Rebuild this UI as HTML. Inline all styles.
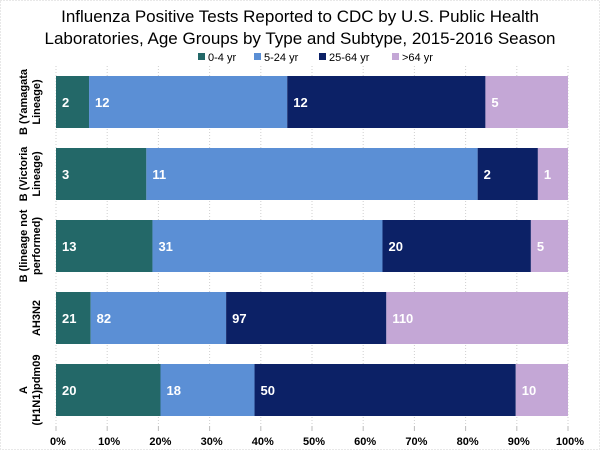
<!DOCTYPE html>
<html><head><meta charset="utf-8"><style>
html,body{margin:0;padding:0;background:#fff;}
svg{display:block;font-family:"Liberation Sans",Arial,sans-serif;}
</style></head><body>
<svg id="chart" width="600" height="450" viewBox="0 0 600 450">
<rect x="0.5" y="0.5" width="599" height="449" fill="#fff" stroke="#d0d0d0" stroke-dasharray="1,2"/>
<text x="300" y="22" text-anchor="middle" font-size="17" fill="#000">Influenza Positive Tests Reported to CDC by U.S. Public Health</text>
<text x="300" y="44" text-anchor="middle" font-size="17" fill="#000">Laboratories, Age Groups by Type and Subtype, 2015-2016 Season</text>
<g id="legend"></g>
<g id="grid"></g>
<g id="bars"></g>
<g id="xaxis"></g>
<g id="yaxis"></g>
</svg>
<script>
const categories=[["B (Yamagata","Lineage)"],["B (Victoria","Lineage)"],["B (lineage not","performed)"],["AH3N2"],["A","(H1N1)pdm09"]];
const series=["0-4 yr","5-24 yr","25-64 yr",">64 yr"];
const s0=[2,3,13,21,20];
const s1=[12,11,31,82,18];
const s2=[12,2,20,97,50];
const s3=[5,1,5,110,10];
const tickLabels=["0%","10%","20%","30%","40%","50%","60%","70%","80%","90%","100%"];
const colors=["#236868","#5b8fd5","#0c2166","#c4a7d6"];
const NS="http://www.w3.org/2000/svg";
const X0=56,X1=568,Y0=66,Y1=426;
const x=p=>X0+(X1-X0)*p;
const bandH=(Y1-Y0)/categories.length;
const yc=i=>Y0+bandH*(i+0.5);
function mk(t,a,parent){const e=document.createElementNS(NS,t);for(const k in a)e.setAttribute(k,a[k]);document.getElementById(parent).appendChild(e);return e;}
// grid
tickLabels.forEach((l,i)=>{
const g=mk("line",{x1:x(i/10),x2:x(i/10),y1:Y0,y2:Y1,stroke:"#cfcfcf","stroke-dasharray":"1,2"},"grid");


const tk=mk("line",{x1:x(i/10),x2:x(i/10),y1:Y1,y2:Y1+5,stroke:"#bbb"},"xaxis");


const t=mk("text",{x:x(i/10)+2,y:Y1+19,"text-anchor":"middle","font-size":"11","font-weight":"bold",fill:"#000"},"xaxis");
t.textContent=l;


});
const all=[s0,s1,s2,s3];
categories.forEach((c,i)=>{
const tot=all.reduce((s,a)=>s+a[i],0);
let cum=0;
all.forEach((a,j)=>{
const v=a[i];const xa=x(cum/tot),xb=x((cum+v)/tot);cum+=v;
const r=mk("rect",{x:xa,y:yc(i)-26,width:xb-xa,height:52,fill:colors[j]},"bars");


const t=mk("text",{x:xa+6,y:yc(i)+5,"font-size":"13","font-weight":"bold",fill:"#fff"},"bars");
t.textContent=v;


});
const g=mk("text",{transform:`translate(${c.length>1?27:40},${yc(i)}) rotate(-90)`,"text-anchor":"middle","font-size":"11","font-weight":"bold",fill:"#000"},"yaxis");


c.forEach((ln,k)=>{const ts=document.createElementNS(NS,"tspan");ts.setAttribute("x",0);ts.setAttribute("dy",k?"13":"0");ts.textContent=ln;g.appendChild(ts);});
});
// legend
const lx=[198,254,319,392];
series.forEach((s,j)=>{
const r=mk("rect",{x:lx[j],y:53,width:7,height:7,fill:colors[j]},"legend");


const t=mk("text",{x:lx[j]+10,y:61,"font-size":"11",fill:"#000"},"legend");
t.textContent=s;


});
</script>
</body></html>
